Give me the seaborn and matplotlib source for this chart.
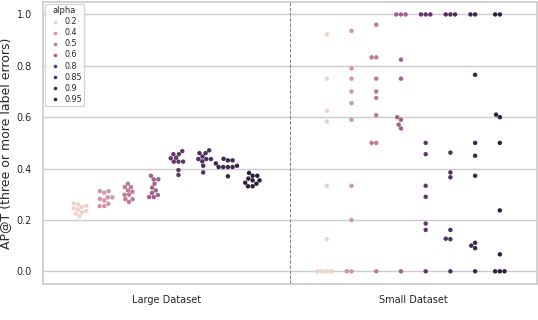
import numpy as np
import pandas as pd
import seaborn as sns
import matplotlib.pyplot as plt

# alpha levels and the two datasets
alphas = [0.2, 0.4, 0.5, 0.6, 0.8, 0.85, 0.9, 0.95]
datasets = ['Large Dataset', 'Small Dataset']

# AP@T scores, one list of runs per alpha
large_scores = {
    0.2: [0.265, 0.26, 0.255, 0.25, 0.245, 0.24, 0.235, 0.23, 0.225, 0.215],
    0.4: [0.312, 0.312, 0.306, 0.288, 0.288, 0.282, 0.276, 0.263, 0.254, 0.254],
    0.5: [0.341, 0.328, 0.328, 0.315, 0.31, 0.298, 0.298, 0.281, 0.281, 0.27],
    0.6: [0.372, 0.358, 0.358, 0.341, 0.326, 0.315, 0.305, 0.297, 0.289, 0.289],
    0.8: [0.468, 0.456, 0.456, 0.442, 0.44, 0.427, 0.427, 0.427, 0.394, 0.375],
    0.85: [0.471, 0.46, 0.46, 0.447, 0.437, 0.437, 0.437, 0.428, 0.411, 0.385],
    0.9: [0.438, 0.432, 0.432, 0.42, 0.411, 0.406, 0.406, 0.406, 0.406, 0.37],
    0.95: [0.383, 0.372, 0.372, 0.361, 0.354, 0.354, 0.345, 0.341, 0.331, 0.331],
}
small_scores = {
    0.2: [0.923, 0.75, 0.625, 0.583, 0.333, 0.125, 0, 0, 0, 0],
    0.4: [0.936, 0.79, 0.75, 0.70, 0.655, 0.59, 0.333, 0.2, 0, 0],
    0.5: [0.96, 0.833, 0.833, 0.75, 0.70, 0.675, 0.608, 0.5, 0.5, 0],
    0.6: [1, 1, 1, 0.824, 0.75, 0.6, 0.59, 0.571, 0.556, 0],
    0.8: [1, 1, 1, 0.5, 0.456, 0.333, 0.29, 0.186, 0.161, 0],
    0.85: [1, 1, 1, 0.462, 0.385, 0.366, 0.161, 0.127, 0.125, 0],
    0.9: [1, 1, 0.765, 0.5, 0.45, 0.372, 0.111, 0.1, 0.09, 0],
    0.95: [1, 1, 0.61, 0.6, 0.5, 0.237, 0.066, 0, 0, 0],
}

# long form table for seaborn
rows = []
for name, scores in zip(datasets, [large_scores, small_scores]):
    for a in alphas:
        for s in scores[a]:
            rows.append({'dataset': name, 'alpha': a, 'score': s})
df = pd.DataFrame(rows)

sns.set_theme(style='whitegrid')
fig, ax = plt.subplots(figsize=(5.38, 3.2), dpi=100)

sns.swarmplot(data=df, x='dataset', y='score', hue='alpha', dodge=True,
              size=3.2, legend='full', ax=ax)

ax.axvline(0.5, color='gray', linestyle='--', linewidth=0.7)
ax.set_xlabel('')
ax.set_ylabel('AP@T (three or more label errors)', fontsize=9)
ax.yaxis.set_label_coords(-0.062, 0.5)
ax.tick_params(axis='both', labelsize=7, pad=1.5)

leg = ax.legend(title='alpha', loc='upper left', fontsize=5.8, title_fontsize=6,
                markerscale=0.8, borderpad=0.3, labelspacing=0.25,
                handletextpad=0.1, borderaxespad=0.3)

plt.subplots_adjust(left=0.079, right=0.998, top=0.995, bottom=0.112)
plt.savefig('out.png', dpi=100)
